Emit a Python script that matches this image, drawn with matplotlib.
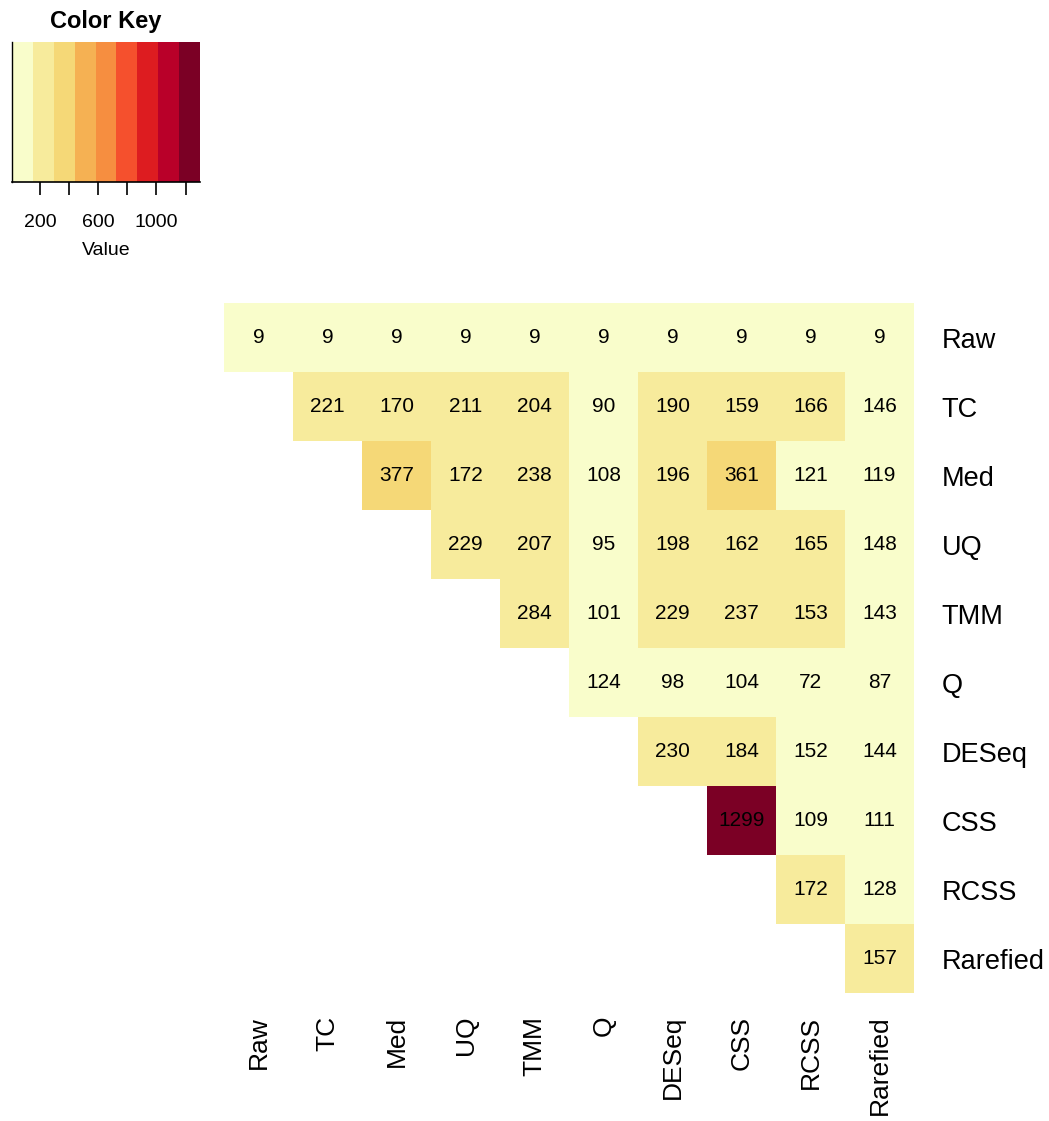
import numpy as np
import matplotlib
matplotlib.use("Agg")
import matplotlib.pyplot as plt
from matplotlib.colors import ListedColormap, BoundaryNorm

plt.rcParams['font.family'] = ['Liberation Sans', 'DejaVu Sans']

# nomes dos métodos de normalização (linhas e colunas)
methods = ["Raw", "TC", "Med", "UQ", "TMM", "Q", "DESeq", "CSS", "RCSS", "Rarefied"]

# triângulo superior da matriz (cada linha começa na diagonal)
upper_rows = [
    [9, 9, 9, 9, 9, 9, 9, 9, 9, 9],
    [221, 170, 211, 204, 90, 190, 159, 166, 146],
    [377, 172, 238, 108, 196, 361, 121, 119],
    [229, 207, 95, 198, 162, 165, 148],
    [284, 101, 229, 237, 153, 143],
    [124, 98, 104, 72, 87],
    [230, 184, 152, 144],
    [1299, 109, 111],
    [172, 128],
    [157],
]

# paleta do tipo YlOrRd com 9 cores
palette = ["#F9FDCB", "#F7EB9C", "#F5D877", "#F5B153", "#F68E40",
           "#F5502D", "#DD1C20", "#B90029", "#7B0025"]

n = len(methods)
mat = np.full((n, n), np.nan)
for i, row in enumerate(upper_rows):
    mat[i, i:] = row

vmin, vmax = np.nanmin(mat), np.nanmax(mat)
breaks = np.linspace(vmin, vmax, len(palette) + 1)
cmap = ListedColormap(palette)
norm = BoundaryNorm(breaks, cmap.N)

W, H = 1049, 1121
fig = plt.figure(figsize=(W / 100, H / 100), dpi=100)

# mapa de calor principal
ax = fig.add_axes([224 / W, (H - 993) / H, 690 / W, 690 / H])
masked = np.ma.masked_invalid(mat)
ax.pcolormesh(np.arange(n + 1), np.arange(n + 1), masked, cmap=cmap, norm=norm)
ax.set_xlim(0, n)
ax.set_ylim(n, 0)
for i in range(n):
    for j in range(n):
        if not np.isnan(mat[i, j]):
            ax.text(j + 0.5, i + 0.5, f"{int(mat[i, j])}", ha="center", va="center",
                    fontsize=15, color="black")
for s in ax.spines.values():
    s.set_visible(False)
ax.set_xticks([])
ax.set_yticks([])

# rótulos das linhas à direita e das colunas embaixo
for i, name in enumerate(methods):
    ax.text(n + 0.4, i + 0.55, name, ha="left", va="center", fontsize=19.5,
            transform=ax.transData, clip_on=False)
    ax.text(i + 0.5, n + 0.33, name, ha="center", va="top", rotation=90,
            fontsize=19, transform=ax.transData, clip_on=False)

# legenda de cores
kax = fig.add_axes([12 / W, (H - 182) / H, 188 / W, 140 / H])
kax.pcolormesh(breaks, [0, 1], ((breaks[:-1] + breaks[1:]) / 2)[None, :],
               cmap=cmap, norm=norm)
kax.set_xlim(vmin, vmax)
kax.set_ylim(0, 1)
kax.set_yticks([])
ticks = np.arange(200, 1300, 200)
kax.set_xticks(ticks)
kax.set_xticklabels([str(t) if t in (200, 600, 1000) else "" for t in ticks], fontsize=14)
kax.tick_params(axis="x", direction="out", length=9, width=1.2, pad=14)
kax.spines["top"].set_visible(False)
kax.spines["right"].set_visible(False)
kax.spines["left"].set_linewidth(1.0)
kax.spines["bottom"].set_linewidth(1.2)
kax.set_xlabel("Value", fontsize=14, labelpad=8)
kax.set_title("Color Key", fontsize=17, fontweight="bold", pad=10)

fig.savefig("out.png", dpi=100)
